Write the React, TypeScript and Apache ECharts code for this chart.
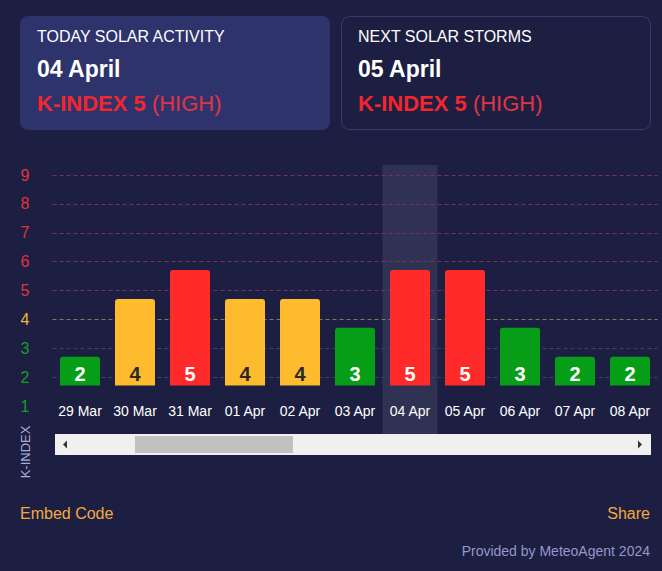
import React, { useEffect, useRef } from 'react';
import * as echarts from 'echarts';

const dates = ['29 Mar', '30 Mar', '31 Mar', '01 Apr', '02 Apr', '03 Apr', '04 Apr', '05 Apr', '06 Apr', '07 Apr', '08 Apr'];
const kIndex = [2, 4, 5, 4, 4, 3, 5, 5, 3, 2, 2];
const gridLevels = [2, 3, 4, 5, 6, 7, 8, 9];
const highlightDate = '04 Apr';
const barBaseline = 1.71;
const axisMax = 9.35;

const today = { title: 'TODAY SOLAR ACTIVITY', date: '04 April', k: 5, level: 'HIGH' };
const next = { title: 'NEXT SOLAR STORMS', date: '05 April', k: 5, level: 'HIGH' };

const RED = '#ff2b2b';
const YELLOW = '#fdbb2d';
const GREEN = '#079e17';
const BG = '#1c1f42';
const FONT = '"Liberation Sans", Arial, sans-serif';

function barColor(v: number) {
  if (v >= 5) return RED;
  if (v === 4) return YELLOW;
  return GREEN;
}
function labelClass(v: number) {
  if (v >= 5) return 'r';
  if (v === 4) return 'y';
  return 'g';
}
function gridColor(v: number) {
  if (v >= 5) return '#7b2f5c';
  if (v === 4) return '#857a55';
  return '#3d4172';
}

function card(x: number, info: typeof today, filled: boolean) {
  return [
    {
      type: 'rect',
      shape: { x: filled ? x : x + 0.5, y: filled ? 16 : 16.5, width: filled ? 310 : 309, height: filled ? 114 : 113, r: 8 },
      style: filled ? { fill: '#2e336c' } : { fill: BG, stroke: '#383c6c', lineWidth: 1 },
      silent: true,
    },
    {
      type: 'text',
      x: x + 17,
      y: 36,
      style: { text: info.title, fill: '#ffffff', font: `16px ${FONT}`, verticalAlign: 'middle' },
      silent: true,
    },
    {
      type: 'text',
      x: x + 17,
      y: 69,
      style: { text: info.date, fill: '#ffffff', font: `bold 23px ${FONT}`, verticalAlign: 'middle' },
      silent: true,
    },
    {
      type: 'text',
      x: x + 17,
      y: 103,
      style: {
        text: `{b|K-INDEX ${info.k} }{n|(${info.level})}`,
        verticalAlign: 'middle',
        rich: {
          b: { fill: '#f2262f', font: `bold 22px ${FONT}` },
          n: { fill: '#e23347', font: `22px ${FONT}` },
        },
      },
      silent: true,
    },
  ];
}

export default function App() {
  const ref = useRef<HTMLDivElement>(null);
  useEffect(() => {
    if (!ref.current) return;
    const chart = echarts.init(ref.current, null, { renderer: 'svg' });
    const option: any = {
      animation: false,
      backgroundColor: BG,
      textStyle: { fontFamily: FONT },
      grid: { left: 52.5, top: 165, width: 605, height: 270 },
      xAxis: [
        {
          type: 'category',
          data: dates,
          axisLine: { show: false },
          axisTick: { show: false },
          axisLabel: {
            interval: 0,
            inside: true,
            margin: 24,
            verticalAlign: 'middle',
            color: '#ffffff',
            fontSize: 14,
            fontFamily: FONT,
          },
        },
        { type: 'category', data: dates, show: false },
      ],
      yAxis: {
        type: 'value',
        min: 0,
        max: axisMax,
        interval: 1,
        axisLine: { show: false },
        axisTick: { show: false },
        splitLine: { show: false },
        axisLabel: {
          margin: 23,
          formatter: (v: number) => (v >= 1 && v <= 9 ? `{${labelClass(v)}|${v}}` : ''),
          rich: {
            r: { color: '#e2333f', fontSize: 16, fontFamily: FONT },
            y: { color: '#f4b630', fontSize: 16, fontFamily: FONT },
            g: { color: '#1b9a2c', fontSize: 16, fontFamily: FONT },
          },
        },
      },
      series: [
        {
          type: 'bar',
          xAxisIndex: 1,
          silent: true,
          z: 1,
          barWidth: '100%',
          data: dates.map((d) => (d === highlightDate ? axisMax : '-')),
          itemStyle: { color: 'rgba(255,255,255,0.085)' },
          markLine: {
            silent: true,
            z: 1.5,
            symbol: 'none',
            label: { show: false },
            data: gridLevels.map((v) => ({
              yAxis: v,
              lineStyle: { color: gridColor(v), type: [4, 3], width: 1 },
            })),
          },
        },
        {
          type: 'bar',
          stack: 'k',
          silent: true,
          barWidth: 40,
          data: dates.map(() => barBaseline),
          itemStyle: { color: 'rgba(0,0,0,0)' },
        },
        {
          type: 'bar',
          stack: 'k',
          barWidth: 40,
          z: 3,
          data: kIndex.map((v) => ({
            value: v - 1,
            itemStyle: { color: barColor(v), borderRadius: [3, 3, 0, 0] },
            label: { color: v === 4 ? '#2a2a2a' : '#ffffff' },
          })),
          label: {
            show: true,
            position: 'insideBottom',
            distance: 2,
            fontSize: 20,
            fontWeight: 'bold',
            fontFamily: FONT,
            formatter: (p: any) => String(kIndex[p.dataIndex]),
          },
        },
      ],
      graphic: [
        ...card(20, today, true),
        ...card(341, next, false),
        {
          type: 'text',
          x: 25,
          y: 452,
          rotation: Math.PI / 2,
          style: { text: 'K-INDEX', fill: '#a9add6', font: `13px ${FONT}`, align: 'center', verticalAlign: 'middle' },
          silent: true,
        },
        { type: 'rect', shape: { x: 55, y: 434, width: 596, height: 21 }, style: { fill: '#f0f0f0' }, silent: true },
        { type: 'rect', shape: { x: 135, y: 436, width: 158, height: 17 }, style: { fill: '#c1c1c1' }, silent: true },
        { type: 'polygon', shape: { points: [[63, 444.5], [67, 440.5], [67, 448.5]] }, style: { fill: '#333333' }, silent: true },
        { type: 'polygon', shape: { points: [[638, 440.5], [642, 444.5], [638, 448.5]] }, style: { fill: '#333333' }, silent: true },
        {
          type: 'text',
          x: 20,
          y: 513,
          style: { text: 'Embed Code', fill: '#f2a93f', font: `16px ${FONT}`, verticalAlign: 'middle' },
        },
        {
          type: 'text',
          x: 650,
          y: 513,
          style: { text: 'Share', fill: '#f2a93f', font: `16px ${FONT}`, align: 'right', verticalAlign: 'middle' },
        },
        {
          type: 'text',
          x: 650,
          y: 551,
          style: { text: 'Provided by MeteoAgent 2024', fill: '#9597c9', font: `14px ${FONT}`, align: 'right', verticalAlign: 'middle' },
          silent: true,
        },
      ],
    };
    chart.setOption(option);
    return () => chart.dispose();
  }, []);
  return <div ref={ref} style={{ position: 'absolute', left: 0, top: 0, width: 662, height: 571 }} />;
}
